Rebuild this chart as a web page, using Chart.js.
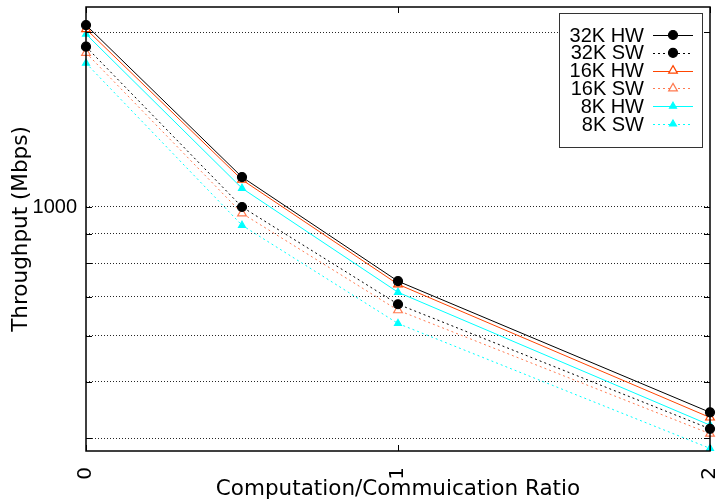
<!DOCTYPE html>
<html>
<head>
<meta charset="utf-8">
<style>
html,body{margin:0;padding:0;background:#fff;}
#wrap{width:720px;height:502px;}
</style>
<script src="https://cdn.jsdelivr.net/npm/chart.js@4/dist/chart.umd.min.js"></script>
</head>
<body>
<div id="wrap"><canvas id="c" width="720" height="502"></canvas></div>
<script>
const ratios = [0, 0.5, 1, 2];
const seriesNames = ['32K HW', '32K SW', '16K HW', '16K SW', '8K HW', '8K SW'];
const hw32 = [2057, 1126, 745, 443];
const sw32 = [1888, 1000, 680, 415];
const hw16 = [2025, 1114, 736, 434];
const sw16 = [1843, 975, 664, 407];
const hw8  = [1985, 1077, 713, 421];
const sw8  = [1769, 930, 630, 384];
const yTickValues = [400, 500, 600, 700, 800, 900, 1000, 2000];
const yTickLabels = {1000: '1000'};
const xTickValues = [0, 1, 2];

const FONT = '"Liberation Sans", Arial, Helvetica, sans-serif';
const XFONT = '"DejaVu Sans", sans-serif';

function pts(arr){ return arr.map((v,i)=>({x: ratios[i], y: v})); }

const styles = [
  {color:'#000000', dash:[], point:'circle', r:4.5, fill:'#000000'},
  {color:'#000000', dash:[2,3], point:'circle', r:4.5, fill:'#000000'},
  {color:'#ff4500', dash:[], point:'triangle', r:5, fill:'#ffffff'},
  {color:'#ff7a50', dash:[2,3], point:'triangle', r:5, fill:'#ffffff'},
  {color:'#00ffff', dash:[], point:'triangle', r:4, fill:'#00ffff'},
  {color:'#00ffff', dash:[2,3], point:'triangle', r:4, fill:'#00ffff'}
];
const values = [hw32, sw32, hw16, sw16, hw8, sw8];

const datasets = values.map((v,i)=>({
  label: seriesNames[i],
  data: pts(v),
  borderColor: styles[i].color,
  borderWidth: 1,
  borderDash: styles[i].dash,
  pointStyle: styles[i].point,
  pointRadius: styles[i].r,
  pointBorderColor: styles[i].point === 'circle' ? '#000' : styles[i].color,
  pointBackgroundColor: styles[i].fill,
  pointBorderWidth: 1.2,
  fill: false,
  tension: 0,
  clip: false
}));

const framePlugin = {
  id: 'frame',
  afterDraw(chart){
    const {ctx, chartArea:a, scales} = chart;
    ctx.save();
    ctx.strokeStyle = '#000';
    ctx.lineWidth = 1.5;
    ctx.setLineDash([]);
    ctx.strokeRect(a.left, a.top, a.right - a.left, a.bottom - a.top);
    ctx.lineWidth = 1;
    yTickValues.forEach(v=>{
      const y = Math.round(scales.y.getPixelForValue(v)) + 0.5;
      ctx.beginPath();
      ctx.moveTo(a.left, y); ctx.lineTo(a.left + 6, y);
      ctx.moveTo(a.right - 6, y); ctx.lineTo(a.right, y);
      ctx.stroke();
    });
    xTickValues.forEach(v=>{
      const x = Math.round(scales.x.getPixelForValue(v)) + 0.5;
      ctx.beginPath();
      ctx.moveTo(x, a.bottom); ctx.lineTo(x, a.bottom - 6);
      ctx.moveTo(x, a.top); ctx.lineTo(x, a.top + 6);
      ctx.stroke();
    });
    ctx.restore();
  }
};

const legendPlugin = {
  id: 'boxLegend',
  afterDraw(chart, args, opts){
    const ctx = chart.ctx;
    ctx.save();
    ctx.fillStyle = '#fff';
    ctx.fillRect(opts.x, opts.y, opts.w, opts.h);
    ctx.strokeStyle = '#333';
    ctx.lineWidth = 1;
    ctx.setLineDash([]);
    ctx.strokeRect(opts.x + 0.5, opts.y + 0.5, opts.w, opts.h);
    ctx.font = '20px ' + FONT;
    ctx.textAlign = 'right';
    ctx.textBaseline = 'middle';
    chart.data.datasets.forEach((ds, i)=>{
      const y = opts.firstY + i * opts.step;
      ctx.fillStyle = '#000';
      ctx.fillText(ds.label, opts.textX, y + 1);
      ctx.strokeStyle = ds.borderColor;
      ctx.lineWidth = 1.2;
      ctx.setLineDash(ds.borderDash);
      ctx.beginPath();
      ctx.moveTo(opts.lineX1, Math.round(y) + 0.5);
      ctx.lineTo(opts.lineX2, Math.round(y) + 0.5);
      ctx.stroke();
      ctx.setLineDash([]);
      ctx.fillStyle = ds.pointBackgroundColor;
      ctx.strokeStyle = ds.pointBorderColor;
      ctx.lineWidth = ds.pointBorderWidth;
      Chart.helpers.drawPoint(ctx, {
        pointStyle: ds.pointStyle, radius: ds.pointRadius, borderWidth: ds.pointBorderWidth, rotation: 0
      }, (opts.lineX1 + opts.lineX2) / 2, y);
    });
    ctx.restore();
  }
};

new Chart(document.getElementById('c'), {
  type: 'line',
  data: { datasets },
  plugins: [framePlugin, legendPlugin],
  options: {
    responsive: false,
    animation: false,
    devicePixelRatio: 1,
    layout: { padding: { left: 0, right: 10, top: 7, bottom: 0 } },
    plugins: {
      legend: { display: false },
      tooltip: { enabled: false },
      boxLegend: { x: 559, y: 13, w: 143, h: 134, textX: 644, lineX1: 653, lineX2: 693, firstY: 35, step: 17.8 }
    },
    scales: {
      x: {
        type: 'linear',
        min: 0, max: 2,
        afterBuildTicks(scale){ scale.ticks = xTickValues.map(v=>({value:v})); },
        afterFit(scale){ scale.height = 51; scale.paddingLeft = 0; scale.paddingRight = 0; scale.paddingTop = 0; scale.paddingBottom = 0; },
        grid: { display: false, drawTicks: false },
        border: { display: false },
        ticks: {
          minRotation: 90, maxRotation: 90,
          padding: 16,
          color: '#000',
          font: { family: XFONT, size: 20 },
          callback: v => String(v)
        },
        title: {
          display: true,
          text: 'Computation/Commuication Ratio',
          color: '#000',
          font: { family: XFONT, size: 21.5 },
          padding: { top: 0, bottom: 0 }
        }
      },
      y: {
        type: 'logarithmic',
        min: 380, max: 2210,
        afterBuildTicks(scale){ scale.ticks = yTickValues.map(v=>({value:v})); },
        afterFit(scale){ scale.width = 86; scale.paddingLeft = 0; scale.paddingRight = 0; scale.paddingTop = 0; scale.paddingBottom = 0; },
        grid: { color: 'rgba(0,0,0,0.85)', lineWidth: 1, drawTicks: false },
        border: { display: false, dash: [1, 2] },
        ticks: {
          padding: 9,
          color: '#000',
          font: { family: FONT, size: 20 },
          autoSkip: false,
          callback: v => (yTickLabels[v] !== undefined ? yTickLabels[v] : '')
        },
        title: {
          display: true,
          text: 'Throughput (Mbps)',
          color: '#000',
          font: { family: XFONT, size: 21.5 },
          padding: { top: 9, bottom: 0 }
        }
      }
    }
  }
});
</script>
</body>
</html>
